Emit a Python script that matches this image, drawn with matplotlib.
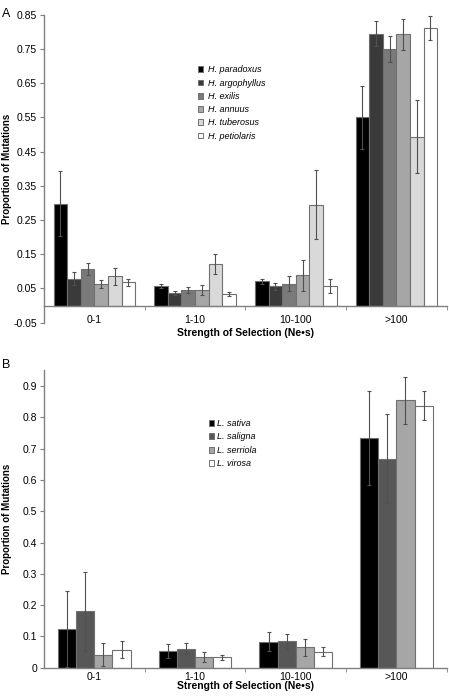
import numpy as np
import matplotlib
matplotlib.use("Agg")
from matplotlib import pyplot as plt
from matplotlib.patches import Patch

plt.rcParams['font.family'] = ['Liberation Sans', 'DejaVu Sans']

categories = ['0-1', '1-10', '10-100', '>100']

# panel A: Helianthus
species_a = ['H. paradoxus', 'H. argophyllus', 'H. exilis', 'H. annuus', 'H. tuberosus', 'H. petiolaris']
colors_a = ['#000000', '#3a3a3a', '#7a7a7a', '#a6a6a6', '#d9d9d9', '#ffffff']
values_a = [
    [0.298, 0.057, 0.071, 0.551],
    [0.079, 0.037, 0.057, 0.795],
    [0.107, 0.045, 0.064, 0.749],
    [0.062, 0.046, 0.088, 0.793],
    [0.085, 0.122, 0.295, 0.494],
    [0.068, 0.035, 0.057, 0.810],
]
errors_a = [
    [0.095, 0.006, 0.008, 0.092],
    [0.018, 0.006, 0.010, 0.036],
    [0.017, 0.009, 0.022, 0.038],
    [0.012, 0.014, 0.045, 0.045],
    [0.024, 0.030, 0.100, 0.108],
    [0.011, 0.006, 0.020, 0.035],
]

# panel B: Lactuca
species_b = ['L. sativa', 'L. saligna', 'L. serriola', 'L. virosa']
colors_b = ['#000000', '#575757', '#a6a6a6', '#ffffff']
values_b = [
    [0.123, 0.053, 0.083, 0.734],
    [0.180, 0.061, 0.085, 0.668],
    [0.042, 0.035, 0.066, 0.854],
    [0.058, 0.034, 0.052, 0.837],
]
errors_b = [
    [0.122, 0.022, 0.030, 0.150],
    [0.127, 0.017, 0.024, 0.142],
    [0.036, 0.017, 0.027, 0.075],
    [0.028, 0.008, 0.014, 0.047],
]

fig = plt.figure(figsize=(4.49, 7.00), dpi=100)
ax_a = fig.add_axes([0.098, 0.539, 0.897, 0.44])
ax_b = fig.add_axes([0.098, 0.046, 0.897, 0.425])

spine_col = '#808080'


def draw_panel(ax, species, colors, values, errors, bw, pad):
    x = np.arange(len(categories))
    n = len(species)
    for i in range(n):
        pos = x + (i - (n - 1) / 2) * bw
        ax.bar(pos, values[i], width=bw, color=colors[i], edgecolor='#707070', linewidth=0.8,
               label=species[i], zorder=2)
        ax.errorbar(pos, values[i], yerr=errors[i], fmt='none', ecolor='#505050',
                    elinewidth=0.8, capsize=1.5, capthick=0.8, zorder=3)
    ax.set_xlim(-0.5, 3.5)
    ax.set_xticks(x)
    ax.set_xticklabels(categories)
    ax.set_xticks([0.5, 1.5, 2.5, 3.5], minor=True)
    for s in ['top', 'right']:
        ax.spines[s].set_visible(False)
    for s in ['left', 'bottom']:
        ax.spines[s].set_color(spine_col)
        ax.spines[s].set_linewidth(1.0)
    ax.tick_params(axis='x', which='major', length=0, pad=pad, labelsize=7.5)
    ax.tick_params(axis='x', which='minor', length=3, direction='out', color=spine_col)
    ax.tick_params(axis='y', length=3, direction='out', color=spine_col, labelsize=7.5, pad=2)
    ax.set_ylabel('Proportion of Mutations', fontsize=7, fontweight='bold')
    ax.set_xlabel('Strength of Selection (Ne\u2022s)', fontsize=7.5, fontweight='bold')
    ax.yaxis.set_label_coords(-0.08, 0.5)


draw_panel(ax_a, species_a, colors_a, values_a, errors_a, 0.135, 7)
ax_a.spines['bottom'].set_position(('data', 0))
ax_a.tick_params(axis='x', which='major', length=0, pad=7, labelsize=7.5)
ax_a.tick_params(axis='x', which='minor', length=3, direction='out', color=spine_col)
ax_a.set_ylim(-0.05, 0.85)
ax_a.set_yticks(np.arange(-0.05, 0.851, 0.1))
ax_a.set_yticklabels(['%.2f' % v for v in np.arange(-0.05, 0.851, 0.1)])
ax_a.xaxis.set_label_coords(0.5, -0.018)

draw_panel(ax_b, species_b, colors_b, values_b, errors_b, 0.18, 3)
ax_b.set_ylim(0, 0.95)
ax_b.set_yticks(np.arange(0, 0.91, 0.1))
ax_b.set_yticklabels(['0'] + ['%.1f' % v for v in np.arange(0.1, 0.91, 0.1)])
ax_b.xaxis.set_label_coords(0.5, -0.043)

handles_a = [Patch(facecolor=c, edgecolor='#707070', linewidth=0.7) for c in colors_a]
fig.legend(handles_a, species_a, loc='upper left', bbox_to_anchor=(0.43, 0.913), frameon=False,
           prop={'size': 6.5, 'style': 'italic'}, handlelength=0.6, handleheight=0.6,
           handletextpad=0.5, labelspacing=0.47, borderpad=0)

handles_b = [Patch(facecolor=c, edgecolor='#707070', linewidth=0.7) for c in colors_b]
fig.legend(handles_b, species_b, loc='upper left', bbox_to_anchor=(0.455, 0.408), frameon=False,
           prop={'size': 6.5, 'style': 'italic'}, handlelength=0.6, handleheight=0.6,
           handletextpad=0.3, labelspacing=0.5, borderpad=0)

fig.text(0.005, 0.988, 'A', fontsize=9, va='top', ha='left')
fig.text(0.005, 0.487, 'B', fontsize=9, va='top', ha='left')

fig.savefig('out.png', dpi=100)
